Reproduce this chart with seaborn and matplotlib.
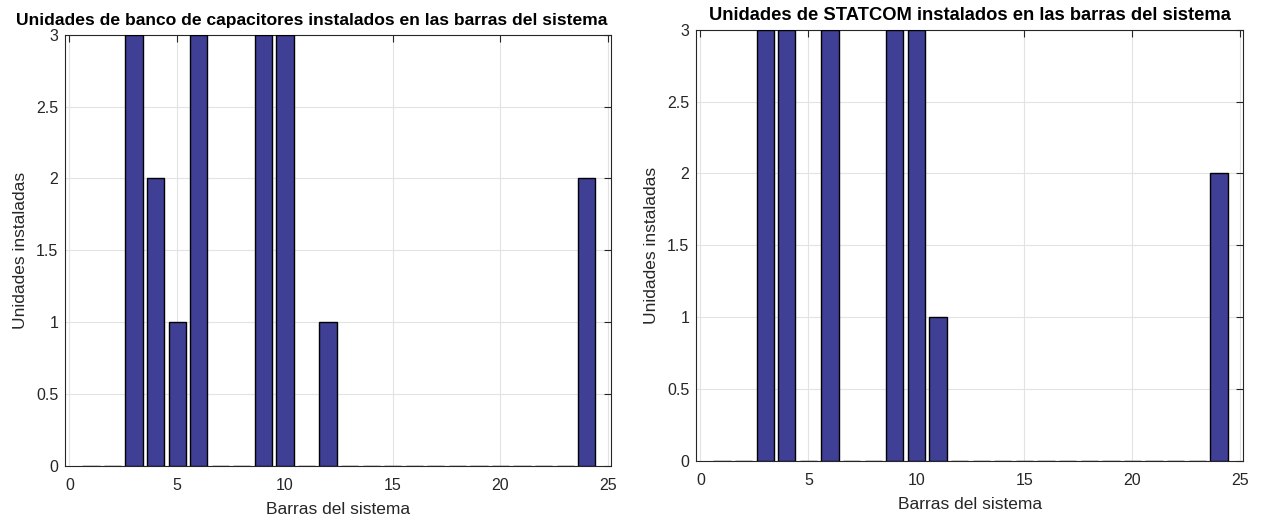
import matplotlib
matplotlib.use("Agg")
import matplotlib.pyplot as plt
import seaborn as sns
import numpy as np

# Installed units per system bus (buses 1..24)
barras = list(range(1, 25))
capacitores = [0, 0, 3, 2, 1, 3, 0, 0, 3, 3, 0, 1,
               0, 0, 0, 0, 0, 0, 0, 0, 0, 0, 0, 2]
statcom = [0, 0, 3, 3, 0, 3, 0, 0, 3, 3, 1, 0,
           0, 0, 0, 0, 0, 0, 0, 0, 0, 0, 0, 2]

titulos = ["Unidades de banco de capacitores instalados en las barras del sistema",
           "Unidades de STATCOM instalados en las barras del sistema"]
xlabel = "Barras del sistema"
ylabel = "Unidades instaladas"
xticks = [0, 5, 10, 15, 20, 25]
yticks = [0, 0.5, 1, 1.5, 2, 2.5, 3]
ytick_labels = ["0", "0.5", "1", "1.5", "2", "2.5", "3"]

sns.set_theme(style="white")
plt.rcParams["font.family"] = ["Liberation Sans", "DejaVu Sans"]

bar_color = "#3f3f96"
text_color = "#262626"

fig = plt.figure(figsize=(12.63, 5.23), dpi=100)
ax1 = fig.add_axes([0.0517, 0.1096, 0.4321, 0.8241])
ax2 = fig.add_axes([0.5513, 0.1191, 0.4331, 0.8241])

series = [capacitores, statcom]
title_x = [0.452, 0.5]
title_size = [12.6, 13.2]

for ax, vals, titulo, tx, ts in zip([ax1, ax2], series, titulos, title_x, title_size):
    sns.barplot(x=barras, y=vals, native_scale=True, color=bar_color,
                saturation=1, edgecolor="black", linewidth=1.0, width=0.8,
                ax=ax, zorder=3)
    ax.set_xlim(-0.19, 25.13)
    ax.set_ylim(0, 3)
    ax.set_xticks(xticks)
    ax.set_xticklabels([str(t) for t in xticks])
    ax.set_yticks(yticks)
    ax.set_yticklabels(ytick_labels)
    ax.grid(True, color="#e3e3e3", linewidth=0.8, zorder=0)
    ax.set_axisbelow(True)
    ax.tick_params(direction="in", top=True, right=True, length=5,
                   width=0.8, colors=text_color, labelsize=11.5)
    ax.tick_params(axis="x", pad=9)
    ax.tick_params(axis="y", pad=5)
    for s in ax.spines.values():
        s.set_color(text_color)
        s.set_linewidth(0.8)
        s.set_visible(True)
    ax.set_xlabel(xlabel, fontsize=12.5, color=text_color, labelpad=6)
    ax.set_ylabel(ylabel, fontsize=12.5, color=text_color, labelpad=6)
    ax.set_title(titulo, fontsize=ts, fontweight="bold", color="black",
                 x=tx, pad=7)

fig.savefig("out.png", dpi=100, facecolor="white")
